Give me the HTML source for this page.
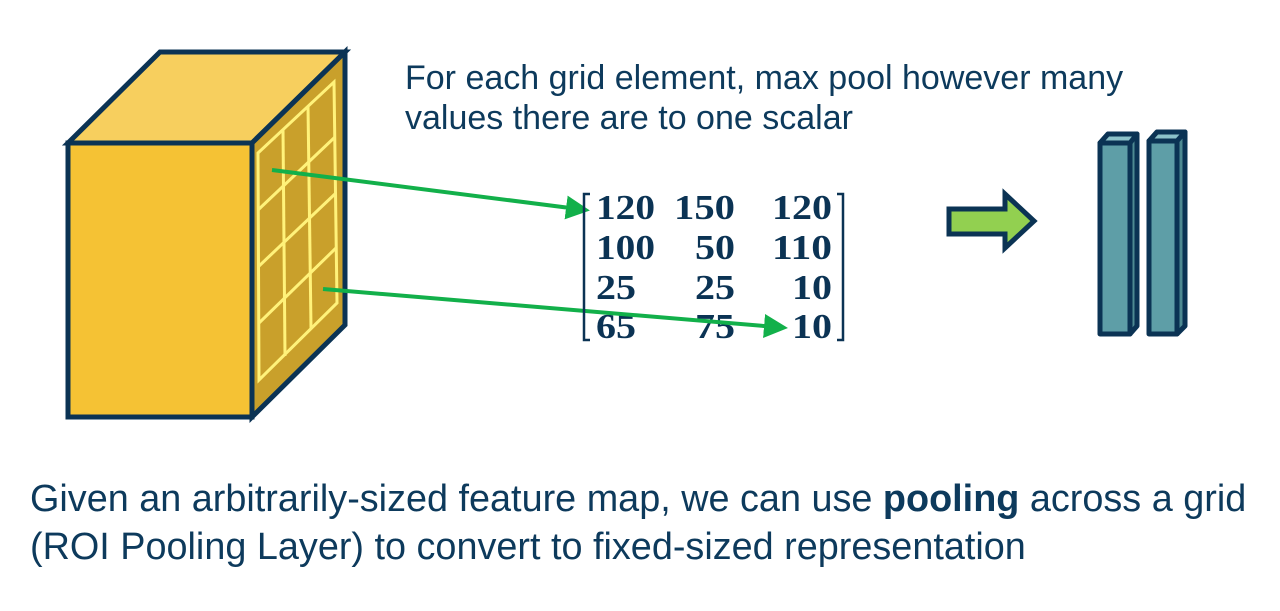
<!DOCTYPE html>
<html><head><style>
body{margin:0;width:1280px;height:611px;background:#fff;overflow:hidden;position:relative;font-family:"Liberation Sans",sans-serif}
.t{position:absolute;color:#0b3354}
</style></head><body>
<div class="t" style="left:405px;top:58px;font-size:34px;line-height:40px;color:#0d3a5c">For each grid element, max pool however many<br>values there are to one scalar</div>
<div class="t" style="left:30px;top:475px;font-size:37.8px;line-height:48px;color:#0d3a5c">Given an arbitrarily-sized feature map, we can use <b>pooling</b> across a grid<br>(ROI Pooling Layer) to convert to fixed-sized representation</div>
<svg width="1280" height="611" style="position:absolute;left:0;top:0">
<g stroke="#0b3354" stroke-width="5" stroke-linejoin="miter">
<polygon points="68,143 160,52 345,52 252,143" fill="#f7cf5e"/>
<polygon points="252,143 345,52 345,325 252,417" fill="#c9a02b"/>
<rect x="68" y="143" width="184" height="274" fill="#f5c234"/>
</g>
<g stroke="#fff27a" stroke-width="3" fill="none">
<polygon points="258,153 334,82 337,303 259,380"/>
<line x1="283" y1="130" x2="285" y2="356"/>
<line x1="308" y1="106" x2="311" y2="328"/>
<line x1="258" y1="210" x2="335" y2="137"/>
<line x1="258" y1="267" x2="336" y2="193"/>
<line x1="259" y1="323" x2="336" y2="248"/>
</g>
<g font-family="'Liberation Serif',serif" font-weight="bold" font-size="35" fill="#0b3354">
<text x="596" y="219" textLength="59" lengthAdjust="spacingAndGlyphs">120</text><text x="674" y="219" textLength="61" lengthAdjust="spacingAndGlyphs">150</text><text x="772" y="219" textLength="60" lengthAdjust="spacingAndGlyphs">120</text>
<text x="596" y="259" textLength="59" lengthAdjust="spacingAndGlyphs">100</text><text x="695" y="259" textLength="40" lengthAdjust="spacingAndGlyphs">50</text><text x="772" y="259" textLength="60" lengthAdjust="spacingAndGlyphs">110</text>
<text x="596" y="299" textLength="40" lengthAdjust="spacingAndGlyphs">25</text><text x="695" y="299" textLength="40" lengthAdjust="spacingAndGlyphs">25</text><text x="792" y="299" textLength="40" lengthAdjust="spacingAndGlyphs">10</text>
<text x="596" y="338" textLength="40" lengthAdjust="spacingAndGlyphs">65</text><text x="695" y="338" textLength="40" lengthAdjust="spacingAndGlyphs">75</text><text x="792" y="338" textLength="40" lengthAdjust="spacingAndGlyphs">10</text>
</g>
<defs><marker id="a" markerWidth="6" markerHeight="6" refX="3" refY="3" orient="auto" markerUnits="strokeWidth"><path d="M0,0 L6,3 L0,6 z" fill="#12b04a"/></marker></defs>
<g stroke="#12b04a" stroke-width="4">
<line x1="272" y1="170" x2="578" y2="209" marker-end="url(#a)"/>
<line x1="323" y1="289" x2="776" y2="327" marker-end="url(#a)"/>
</g>
<g stroke="#0b3354" stroke-width="2.5" fill="none">
<path d="M590,194 H584 V340 H590"/>
<path d="M837,194 H843 V340 H837"/>
</g>
<polygon points="949,209 1005,209 1005,194 1034,221 1005,248 1005,234 949,234" fill="#92d050" stroke="#0b3354" stroke-width="5"/>
<g stroke="#0b3354" stroke-width="5" fill="#5e9ea7" stroke-linejoin="round">
<polygon points="1100,143 1108,134 1137,134 1137,326 1130,334 1130,143" fill="#4e8a92"/>
<polygon points="1100,143 1108,134 1137,134 1130,143" fill="#8cc2c9"/>
<rect x="1100" y="143" width="30" height="191"/>
<polygon points="1149,141 1157,132 1185,132 1185,326 1177,334 1177,141" fill="#4e8a92"/>
<polygon points="1149,141 1157,132 1185,132 1177,141" fill="#8cc2c9"/>
<rect x="1149" y="141" width="28" height="193"/>
</g>
</svg>
</body></html>
